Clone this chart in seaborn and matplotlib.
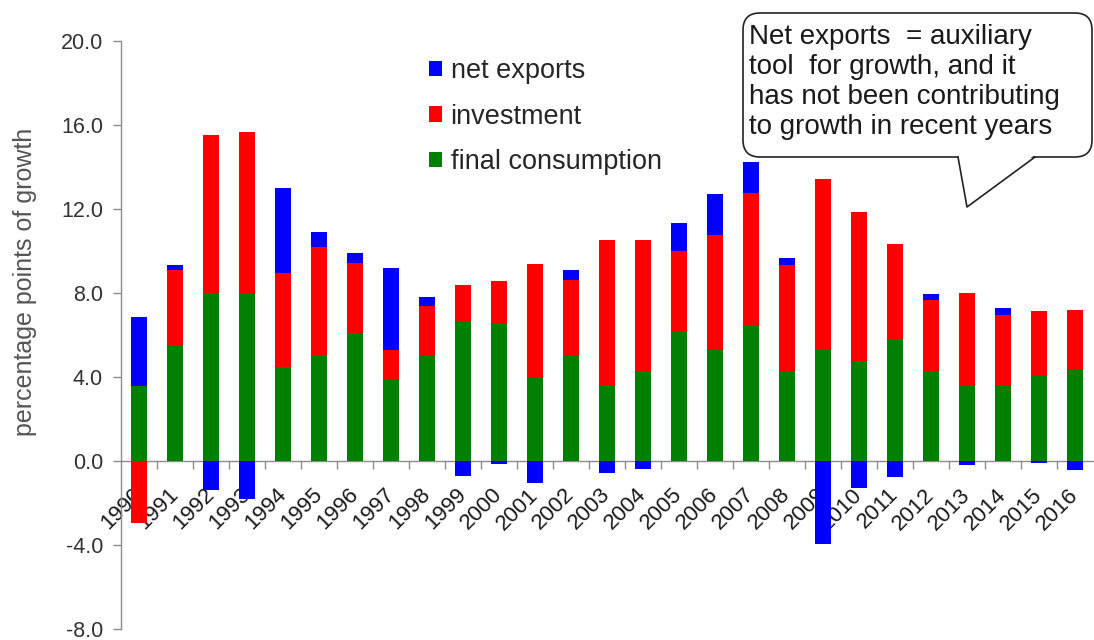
import numpy as np
import pandas as pd
import matplotlib
matplotlib.use("Agg")
import matplotlib.pyplot as plt
import matplotlib.patches as mpatches
from matplotlib.lines import Line2D
import seaborn as sns

# ---- data: contributions to GDP growth (percentage points) ----
years = [str(y) for y in range(1990, 2017)]
final_consumption = [3.59, 5.54, 8.00, 8.00, 4.47, 5.07, 6.09, 3.88, 5.07, 6.65,
                     6.54, 4.00, 5.07, 3.56, 4.23, 6.17, 5.30, 6.41, 4.28, 5.30,
                     4.75, 5.83, 4.30, 3.64, 3.59, 4.07, 4.35]
investment = [-2.93, 3.56, 7.52, 7.68, 4.47, 5.10, 3.36, 1.42, 2.29, 1.71,
              2.01, 5.37, 3.56, 6.97, 6.30, 3.83, 5.47, 6.34, 5.06, 8.11,
              7.13, 4.51, 3.38, 4.36, 3.35, 3.06, 2.85]
net_exports = [3.25, 0.24, -1.38, -1.82, 4.04, 0.72, 0.45, 3.88, 0.44, -0.71,
               -0.13, -1.06, 0.47, -0.59, -0.40, 1.35, 1.94, 1.50, 0.32, -3.96,
               -1.27, -0.75, 0.27, -0.20, 0.34, -0.10, -0.45]

series_names = ["final consumption", "investment", "net exports"]
series_colors = {"final consumption": "#008000", "investment": "#ff0000",
                 "net exports": "#0000ff"}
legend_order = ["net exports", "investment", "final consumption"]

y_ticks = [-8, -4, 0, 4, 8, 12, 16, 20]
y_tick_labels = [f"{v:.1f}" for v in y_ticks]
y_label = "percentage points of growth"
note_text = ("Net exports  = auxiliary\n"
             "tool  for growth, and it\n"
             "has not been contributing\n"
             "to growth in recent years")

# ---- style ----
sns.set_style("white")
plt.rcParams["font.family"] = ["Liberation Sans", "DejaVu Sans"]
plt.rcParams["axes.unicode_minus"] = False

fig = plt.figure(figsize=(10.94, 6.4), dpi=100)
# axes spans y=-8 (near the bottom edge) to y=20
ax = fig.add_axes([0.1106, 1 - 629 / 640, 0.8885, (629 - 41) / 640])

# ---- stacked bars: positives stack upward, negatives downward ----
long_df = pd.DataFrame({
    "year": years * 3,
    "series": np.repeat(series_names, len(years)),
    "value": final_consumption + investment + net_exports,
})
pos_base = np.zeros(len(years))
neg_base = np.zeros(len(years))
for name in series_names:
    sub = long_df[long_df["series"] == name]
    vals = sub["value"].to_numpy()
    bottom = np.where(vals >= 0, pos_base, neg_base)
    sns.barplot(data=sub, x="year", y="value", order=years,
                color=series_colors[name], saturation=1, width=0.42,
                errorbar=None, bottom=bottom, linewidth=0, ax=ax)
    pos_base = pos_base + np.clip(vals, 0, None)
    neg_base = neg_base + np.clip(vals, None, 0)

# ---- axes ----
ax.set_xlim(-0.5, len(years) - 0.5)
ax.set_ylim(-8, 20)
ax.set_axisbelow(True)
for side in ("top", "right"):
    ax.spines[side].set_visible(False)
axis_grey = "#8c8c8c"
ax.spines["left"].set_color(axis_grey)
ax.spines["left"].set_linewidth(1.0)
ax.spines["bottom"].set_position(("data", 0))
ax.spines["bottom"].set_color(axis_grey)
ax.spines["bottom"].set_linewidth(1.0)
ax.spines["bottom"].set_zorder(0.5)

ax.set_yticks(y_ticks)
ax.set_yticklabels(y_tick_labels)
ax.tick_params(axis="y", direction="out", length=6, width=1, color=axis_grey,
               pad=7, labelsize=15.5, labelcolor="#333333", left=True)

ax.set_xticks(range(len(years)))
ax.set_xticklabels(years, rotation=45, ha="right", va="center",
                   rotation_mode="anchor")
ax.tick_params(axis="x", which="major", length=0, pad=22, labelsize=16,
               labelcolor="#1a1a1a", bottom=True)
ax.set_xticks(np.arange(len(years) - 1) + 0.5, minor=True)
ax.tick_params(axis="x", which="minor", direction="out", length=6, width=1,
               color=axis_grey, bottom=True)
ax.set_xlabel("")
ax.set_ylabel(y_label, fontsize=18, color="#555555")
ax.yaxis.set_label_coords(-0.086, 0.59)
ax.grid(False)

# ---- legend ----
handles = [mpatches.Patch(facecolor=series_colors[n], edgecolor="none", label=n)
           for n in legend_order]
fig.legend(handles=handles, loc="upper left", bbox_to_anchor=(0.392, 0.909),
           bbox_transform=fig.transFigure, frameon=False, fontsize=19.5,
           handlelength=0.5, handleheight=0.5, handletextpad=0.3,
           labelspacing=0.72, borderpad=0, borderaxespad=0)

# ---- speech-bubble note (inch coordinates) ----
tr = fig.dpi_scale_trans
bubble = mpatches.FancyBboxPatch((7.43, 4.83), 3.49, 1.44,
                                 boxstyle="round,pad=0,rounding_size=0.17",
                                 facecolor="white", edgecolor="#222222",
                                 linewidth=1.2, transform=tr, zorder=5)
fig.add_artist(bubble)
tail_cover = mpatches.Polygon([(9.585, 4.85), (9.67, 4.33), (10.345, 4.85)],
                              closed=True, facecolor="white", edgecolor="none",
                              transform=tr, zorder=6)
fig.add_artist(tail_cover)
tail = Line2D([9.58, 9.67, 10.35], [4.83, 4.33, 4.83], color="#222222",
              linewidth=1.2, transform=tr, zorder=7)
fig.add_artist(tail)
fig.text(7.49, 6.16, note_text, transform=tr, ha="left", va="top",
         fontsize=20, color="#1a1a1a", linespacing=1.2, zorder=8)

fig.savefig("out.png", dpi=100, facecolor="white")
